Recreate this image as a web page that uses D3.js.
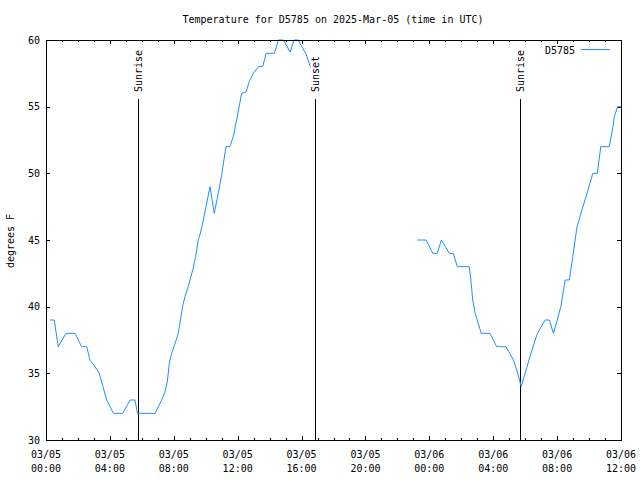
<!DOCTYPE html>
<html><head><meta charset="utf-8">
<script src="https://cdn.jsdelivr.net/npm/d3@7/dist/d3.min.js"></script>
<style>
body{margin:0;background:#fff;}
svg text{font-family:"DejaVu Sans Mono","Liberation Mono",monospace;font-size:10px;fill:#000;}
</style></head>
<body><svg id="c" width="640" height="480"></svg>
<script>
const title = "Temperature for D5785 on 2025-Mar-05 (time in UTC)";
const seriesName = "D5785";
const yLabel = "degrees F";
const times = [
"2025-03-05T00:15","2025-03-05T00:31","2025-03-05T00:46","2025-03-05T01:15","2025-03-05T01:49",
"2025-03-05T02:14","2025-03-05T02:33","2025-03-05T02:45","2025-03-05T03:04","2025-03-05T03:20",
"2025-03-05T03:34","2025-03-05T03:48","2025-03-05T04:13","2025-03-05T04:48","2025-03-05T05:16",
"2025-03-05T05:34","2025-03-05T05:44","2025-03-05T06:50","2025-03-05T07:14","2025-03-05T07:27",
"2025-03-05T07:36","2025-03-05T07:43","2025-03-05T07:52","2025-03-05T08:05","2025-03-05T08:17",
"2025-03-05T08:26","2025-03-05T08:34","2025-03-05T08:42","2025-03-05T08:55","2025-03-05T09:13",
"2025-03-05T09:22","2025-03-05T09:32","2025-03-05T09:41","2025-03-05T09:51","2025-03-05T10:06",
"2025-03-05T10:16","2025-03-05T10:32","2025-03-05T10:47","2025-03-05T11:00","2025-03-05T11:16",
"2025-03-05T11:31","2025-03-05T11:44","2025-03-05T11:56","2025-03-05T12:15","2025-03-05T12:31",
"2025-03-05T12:44","2025-03-05T12:59","2025-03-05T13:18","2025-03-05T13:34","2025-03-05T13:47",
"2025-03-05T14:18","2025-03-05T14:33","2025-03-05T14:52","2025-03-05T15:17","2025-03-05T15:32",
"2025-03-05T15:48","2025-03-05T15:54","2025-03-05T16:17","2025-03-05T16:32","2025-03-05T16:35",
"2025-03-05T20:00",
"2025-03-05T23:15","2025-03-05T23:48","2025-03-06T00:13","2025-03-06T00:30","2025-03-06T00:45",
"2025-03-06T01:15","2025-03-06T01:30","2025-03-06T01:45","2025-03-06T02:30","2025-03-06T02:36",
"2025-03-06T02:43","2025-03-06T02:52","2025-03-06T03:15","2025-03-06T03:48","2025-03-06T04:13",
"2025-03-06T04:48","2025-03-06T05:16","2025-03-06T05:31","2025-03-06T05:45","2025-03-06T06:18",
"2025-03-06T06:44","2025-03-06T06:59","2025-03-06T07:15","2025-03-06T07:31","2025-03-06T07:46",
"2025-03-06T07:59","2025-03-06T08:14","2025-03-06T08:30","2025-03-06T08:46","2025-03-06T08:59",
"2025-03-06T09:14","2025-03-06T09:33","2025-03-06T09:54","2025-03-06T10:14","2025-03-06T10:31",
"2025-03-06T10:44","2025-03-06T11:16","2025-03-06T11:29","2025-03-06T11:35","2025-03-06T11:47",
"2025-03-06T11:59"
];
const temps = [
39,39,37,38,38, 37,37,36,35.5,35, 34,33,32,32,33, 33,32,32,33,33.6,
34.4,35.75,36.5,37.25,38, 39.1,40.1,40.75,41.55,42.9, 43.75,45,45.6,46.5,48,
49,47,48.5,49.9,52, 52,52.8,54,56,56.1, 56.9,57.5,58,58,59,
59,60,60,59.1,60, 60,59.75,58.95,58.05,58,
null,
45,45,44,44,45, 44,44,43,43,42, 40.5,39.5,38,38,37, 37,36,35.1,34,36.25,
37.9,38.45,39,39,38, 38.9,40,42,42,43.75, 45.9,47.25,48.6,50,50,
52,52,53.4,54.25,55, 55
];
const eventTimes = ["2025-03-05T05:44","2025-03-05T16:49","2025-03-06T05:41"];
const eventLabels = ["Sunrise","Sunset","Sunrise"];
const xStart = "2025-03-05T00:00", xEnd = "2025-03-06T12:00";
const yTicks = [30,35,40,45,50,55,60];

const parse = d3.utcParse("%Y-%m-%dT%H:%M");
const svg = d3.select("#c");
const L=46,R=621,T=40,B=440;
const x = d3.scaleUtc().domain([parse(xStart),parse(xEnd)]).range([L,R]);
const y = d3.scaleLinear().domain([30,60]).range([B,T]);
const data = times.map((t,i)=>({t:parse(t),v:temps[i]}));

const majorX = d3.utcHour.every(4).range(parse(xStart), d3.utcMinute.offset(parse(xEnd),1));
const minorX = d3.utcHour.every(1).range(parse(xStart), d3.utcMinute.offset(parse(xEnd),1));

// ticks
const g = svg.append("g").attr("stroke","#000").attr("stroke-width",1).attr("shape-rendering","crispEdges");
minorX.forEach(d=>{
  const isMajor = d.getUTCHours()%4===0;
  const len = isMajor?4:2;
  const xx = Math.round(x(d))+0.5;
  g.append("line").attr("x1",xx).attr("x2",xx).attr("y1",B).attr("y2",B-len);
  g.append("line").attr("x1",xx).attr("x2",xx).attr("y1",T).attr("y2",T+len);
});
yTicks.forEach(v=>{
  const yy = Math.round(y(v))+0.5;
  g.append("line").attr("x1",L).attr("x2",L+4).attr("y1",yy).attr("y2",yy);
  g.append("line").attr("x1",R).attr("x2",R-4).attr("y1",yy).attr("y2",yy);
});

// event lines
eventTimes.forEach((t,i)=>{
  const xx = Math.round(x(parse(t)))+0.5;
  g.append("line").attr("x1",xx).attr("x2",xx).attr("y1",99).attr("y2",B);
  svg.append("text").attr("transform",`translate(${xx},92) rotate(-90)`)
    .attr("text-anchor","start").attr("dy","0.35em").text(eventLabels[i]);
});

// data line
svg.append("path").datum(data)
  .attr("fill","none").attr("stroke","#1e8fff").attr("stroke-width",1)
  .attr("d", d3.line().defined(d=>d.v!==null).x(d=>x(d.t)).y(d=>y(d.v)));

// frame
svg.append("rect").attr("x",L+0.5).attr("y",T+0.5).attr("width",R-L).attr("height",B-T)
  .attr("fill","none").attr("stroke","#000").attr("shape-rendering","crispEdges");

// labels
const fmtD = d3.utcFormat("%m/%d"), fmtT = d3.utcFormat("%H:%M");
majorX.forEach(d=>{
  svg.append("text").attr("x",x(d)).attr("y",458).attr("text-anchor","middle").text(fmtD(d));
  svg.append("text").attr("x",x(d)).attr("y",472).attr("text-anchor","middle").text(fmtT(d));
});
yTicks.forEach(v=>{
  svg.append("text").attr("x",40).attr("y",y(v)).attr("dy","0.35em").attr("text-anchor","end").text(v);
});
svg.append("text").attr("x",333).attr("y",23).attr("text-anchor","middle").text(title);
svg.append("text").attr("transform","translate(10,241) rotate(-90)").attr("dy","0.35em")
  .attr("text-anchor","middle").text(yLabel);
// legend
svg.append("text").attr("x",575).attr("y",50).attr("dy","0.35em").attr("text-anchor","end").text(seriesName);
svg.append("line").attr("x1",581).attr("x2",610).attr("y1",49.5).attr("y2",49.5).attr("stroke","#1e8fff");
</script></body></html>
